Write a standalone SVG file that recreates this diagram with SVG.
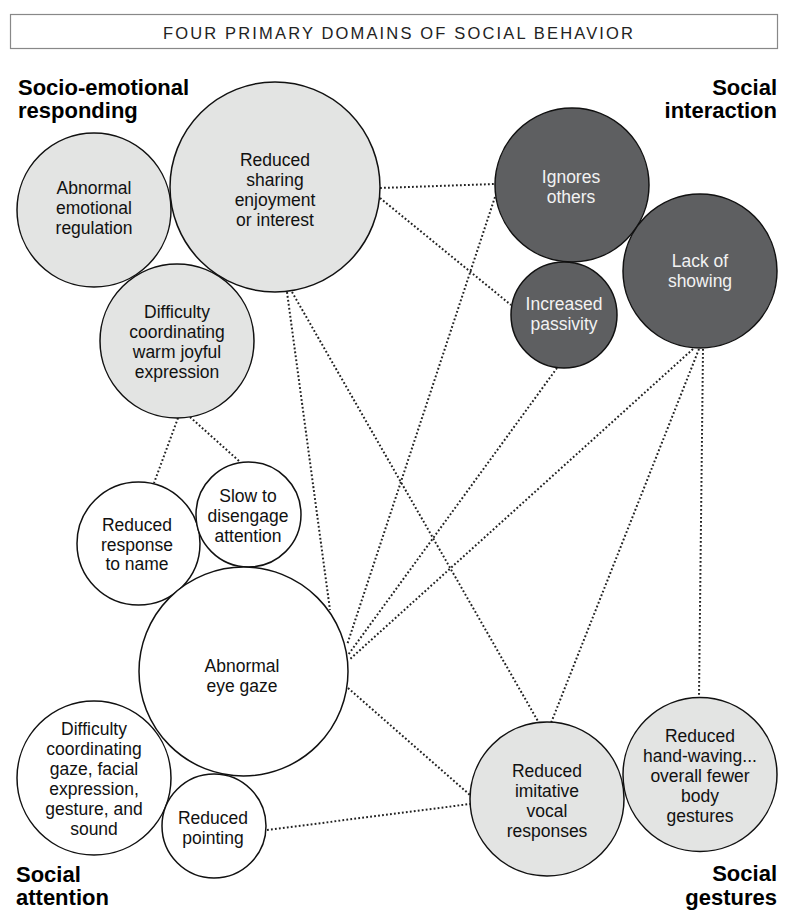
<svg xmlns="http://www.w3.org/2000/svg" width="800" height="921" viewBox="0 0 800 921">
<style>
.c{stroke:#111;stroke-width:1.5}
.light{fill:#e3e4e3}
.dark{fill:#5e5f61}
.white{fill:#fff}
.t{font-family:"Liberation Sans",Arial,sans-serif;font-size:17.5px;text-anchor:middle;fill:#111}
.tw{font-family:"Liberation Sans",Arial,sans-serif;font-size:17.5px;text-anchor:middle;fill:#f2f2f2}
.h{font-family:"Liberation Sans",Arial,sans-serif;font-size:22px;font-weight:bold;fill:#000}
.conn line{stroke:#222;stroke-width:2;stroke-dasharray:1.8 2.2;fill:none}
</style>
<rect width="800" height="921" fill="#fff"/>
<g id="title">
<rect x="10.5" y="14.5" width="767" height="34" fill="#fff" stroke="#888" stroke-width="1.2"/>
<text x="398" y="38.5" font-family="'Liberation Sans',Arial,sans-serif" font-size="16.5" text-anchor="middle" fill="#222" textLength="470" lengthAdjust="spacing">FOUR PRIMARY DOMAINS OF SOCIAL BEHAVIOR</text>
</g>
<g id="domain-labels">
<text class="h" x="18" y="95">Socio-emotional</text>
<text class="h" x="18" y="118">responding</text>
<text class="h" x="777" y="95" text-anchor="end">Social</text>
<text class="h" x="777" y="118" text-anchor="end">interaction</text>
<text class="h" x="16" y="882">Social</text>
<text class="h" x="16" y="905">attention</text>
<text class="h" x="777" y="881" text-anchor="end">Social</text>
<text class="h" x="777" y="905" text-anchor="end">gestures</text>
</g>
<g id="connectors" class="conn">
<line x1="380" y1="188" x2="495" y2="184"/>
<line x1="380" y1="198" x2="511" y2="305"/>
<line x1="495" y1="197" x2="347" y2="645"/>
<line x1="557" y1="368" x2="348" y2="655"/>
<line x1="693" y1="349" x2="349" y2="660"/>
<line x1="699" y1="349" x2="551" y2="723"/>
<line x1="703" y1="349" x2="699" y2="697"/>
<line x1="287" y1="292" x2="330" y2="610"/>
<line x1="292" y1="292" x2="539" y2="723"/>
<line x1="178" y1="418" x2="154" y2="483"/>
<line x1="190" y1="417" x2="239" y2="461"/>
<line x1="348" y1="688" x2="470" y2="795"/>
<line x1="267" y1="830" x2="470" y2="804"/>
</g>
<g id="n-sharing"><circle class="c light" cx="275" cy="187" r="105"/><text class="t" x="275" y="166">Reduced</text><text class="t" x="275" y="186">sharing</text><text class="t" x="275" y="206">enjoyment</text><text class="t" x="275" y="226">or interest</text></g>
<g id="n-emoreg"><circle class="c light" cx="94" cy="210" r="77"/><text class="t" x="94" y="194">Abnormal</text><text class="t" x="94" y="214">emotional</text><text class="t" x="94" y="234">regulation</text></g>
<g id="n-warm"><circle class="c light" cx="177" cy="341" r="77"/><text class="t" x="177" y="318">Difficulty</text><text class="t" x="177" y="338">coordinating</text><text class="t" x="177" y="358">warm joyful</text><text class="t" x="177" y="378">expression</text></g>
<g id="n-ignores"><circle class="c dark" cx="572" cy="185" r="77"/><text class="tw" x="571" y="183">Ignores</text><text class="tw" x="571" y="203">others</text></g>
<g id="n-passivity"><circle class="c dark" cx="564" cy="315" r="53"/><text class="tw" x="564" y="310">Increased</text><text class="tw" x="564" y="330">passivity</text></g>
<g id="n-showing"><circle class="c dark" cx="700" cy="271" r="77"/><text class="tw" x="700" y="267">Lack of</text><text class="tw" x="700" y="287">showing</text></g>
<g id="n-name"><circle class="c white" cx="138.5" cy="543.5" r="61.5"/><text class="t" x="137" y="531">Reduced</text><text class="t" x="137" y="551">response</text><text class="t" x="137" y="570">to name</text></g>
<g id="n-disengage"><circle class="c white" cx="248.5" cy="514.5" r="52.5"/><text class="t" x="248" y="502">Slow to</text><text class="t" x="248" y="522">disengage</text><text class="t" x="248" y="542">attention</text></g>
<g id="n-eyegaze"><circle class="c white" cx="243.5" cy="671.5" r="104.5"/><text class="t" x="242" y="672">Abnormal</text><text class="t" x="242" y="692">eye gaze</text></g>
<g id="n-coordgaze"><circle class="c white" cx="94" cy="778" r="77"/><text class="t" x="94" y="735">Difficulty</text><text class="t" x="94" y="755">coordinating</text><text class="t" x="94" y="775">gaze, facial</text><text class="t" x="94" y="795">expression,</text><text class="t" x="94" y="815">gesture, and</text><text class="t" x="94" y="835">sound</text></g>
<g id="n-pointing"><circle class="c white" cx="214" cy="826" r="52"/><text class="t" x="213" y="824">Reduced</text><text class="t" x="213" y="844">pointing</text></g>
<g id="n-imitative"><circle class="c light" cx="547" cy="799" r="77"/><text class="t" x="547" y="777">Reduced</text><text class="t" x="547" y="797">imitative</text><text class="t" x="547" y="817">vocal</text><text class="t" x="547" y="837">responses</text></g>
<g id="n-waving"><circle class="c light" cx="700" cy="774.5" r="77"/><text class="t" x="700" y="742">Reduced</text><text class="t" x="700" y="762">hand-waving...</text><text class="t" x="700" y="782">overall fewer</text><text class="t" x="700" y="802">body</text><text class="t" x="700" y="822">gestures</text></g>
</svg>
